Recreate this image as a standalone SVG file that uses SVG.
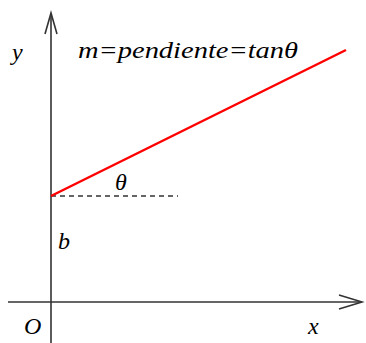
<svg xmlns="http://www.w3.org/2000/svg" width="366" height="343" viewBox="0 0 366 343">
<style>
.ax{stroke:#333;stroke-width:1.6;fill:none}
.lb{font-family:"Liberation Serif",serif;font-style:italic;font-size:24px;fill:#000}
</style>
<rect width="366" height="343" fill="#fff"/>
<g id="axes">
<line class="ax" x1="51" y1="13" x2="51" y2="343"/>
<polyline class="ax" points="45,34 51,13 57,34"/>
<line class="ax" x1="8" y1="302" x2="362" y2="302"/>
<polyline class="ax" points="339,295 362,302 339,309"/>
</g>
<g id="connectors">
<line x1="51" y1="196" x2="178" y2="196" stroke="#333" stroke-width="1.4" stroke-dasharray="5,4"/>
<line x1="51" y1="196" x2="346" y2="50" stroke="#f00" stroke-width="2.5"/>
</g>
<g id="labels">
<text class="lb" x="12" y="60">y</text>
<text class="lb" x="78" y="58" textLength="220" lengthAdjust="spacingAndGlyphs">m=pendiente=tanθ</text>
<text class="lb" x="115" y="190">θ</text>
<text class="lb" x="58" y="249">b</text>
<text class="lb" x="24" y="334">O</text>
<text class="lb" x="308" y="334">x</text>
</g>
</svg>
